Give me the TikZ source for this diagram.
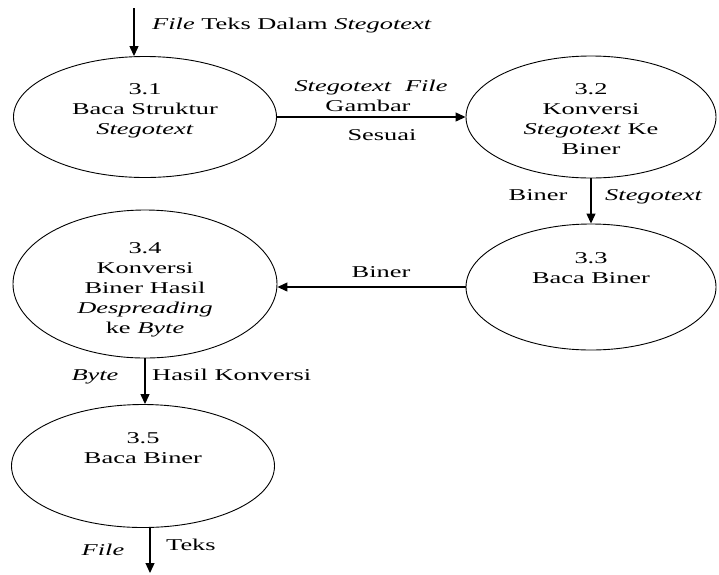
\documentclass[tikz,border=0pt]{standalone}
\usepackage{fontspec}
\setmainfont{Liberation Serif}[FakeStretch=1.6]
\usetikzlibrary{shapes.geometric,arrows.meta}
\begin{document}
\begin{tikzpicture}[x=1pt,y=-1pt,
  proc/.style={draw, ellipse, line width=0.9pt, inner sep=0pt},
  ptext/.style={anchor=north, align=center, inner sep=0pt, font=\fontsize{16.5}{20}\selectfont},
  lbl/.style={inner sep=0pt, font=\fontsize{16.5}{20}\selectfont},
  arr/.style={line width=1.2pt, -{Triangle[length=10pt,width=9pt]}}]
\useasboundingbox (0,0) rectangle (719,574);
% processes
\node[proc, minimum width=263pt, minimum height=121pt] (p1) at (145,117) {};
\node[proc, minimum width=250pt, minimum height=122pt] (p2) at (591,117) {};
\node[proc, minimum width=250pt, minimum height=126pt] (p3) at (591,287) {};
\node[proc, minimum width=264pt, minimum height=148pt] (p4) at (145,284) {};
\node[proc, minimum width=263pt, minimum height=123pt] (p5) at (143,466) {};
% process texts
\node[ptext] (t1) at (145,83) {3.1\\Baca Struktur\\\textit{Stegotext}};
\node[ptext] (t2) at (591,83) {3.2\\Konversi\\\textit{Stegotext} Ke\\Biner};
\node[ptext] (t3) at (591,252) {3.3\\Baca Biner};
\node[ptext] (t4) at (145,242) {3.4\\Konversi\\Biner Hasil\\\textit{Despreading}\\ke \textit{Byte}};
\node[ptext] (t5) at (143,432) {3.5\\Baca Biner};
% connectors
\coordinate (in) at (134,8);
\coordinate (out) at (150,573);
\draw[arr] (in) -- (in |- p1.north);
\draw[arr] (p1.east) -- (p2.west);
\draw[arr] (p2.south) -- (p3.north);
\draw[arr] (p3.west) -- (p3.west -| p4.east);
\draw[arr] (p4.south) -- (p4.south |- p5.north);
\draw[arr] (out |- p5.south) -- (out);
% connector labels
\node[lbl, anchor=base west] (l1) at (152,29) {\textit{File} Teks Dalam \textit{Stegotext}};
\node[lbl, anchor=base] (l2) at (371,91) {\textit{Stegotext}\ \ \textit{File}};
\node[lbl, anchor=base] (l3) at (368,111) {Gambar};
\node[lbl, anchor=base] (l4) at (382,140) {Sesuai};
\node[lbl, anchor=base] (l5) at (538,200) {Biner};
\node[lbl, anchor=base west] (l6) at (605,200) {\textit{Stegotext}};
\node[lbl, anchor=base] (l7) at (381,277) {Biner};
\node[lbl, anchor=base] (l8) at (95,380) {\textit{Byte}};
\node[lbl, anchor=base west] (l9) at (152,380) {Hasil Konversi};
\node[lbl, anchor=base] (l10) at (103,555) {\textit{File}};
\node[lbl, anchor=base west] (l11) at (166,550) {Teks};
\end{tikzpicture}
\end{document}
